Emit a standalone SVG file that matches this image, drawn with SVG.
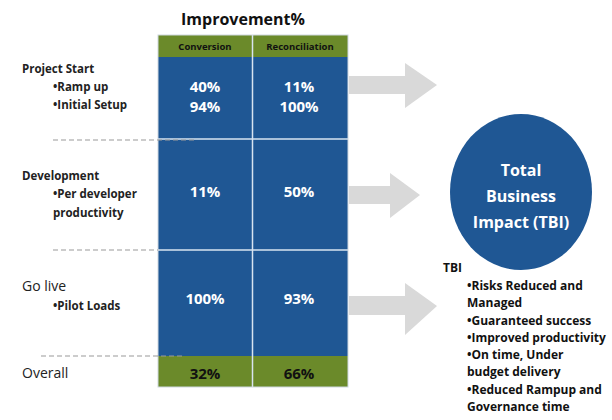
<svg xmlns="http://www.w3.org/2000/svg" width="612" height="420" viewBox="0 0 612 420">
<style>
text{font-family:"Open Sans","Liberation Sans",Arial,sans-serif}
.lbl{font-size:11.5px;font-weight:bold;fill:#222}
.lblr{font-size:14px;fill:#222}
.val{font-size:15px;font-weight:bold;fill:#fff;text-anchor:middle}
.tot{font-size:15px;font-weight:bold;fill:#111;text-anchor:middle}
.hdr{font-size:9.5px;font-weight:bold;fill:#111;text-anchor:middle}
.blue{fill:#1f5794}
.green{fill:#6b8a2a}
.sep{stroke:#d8e4f0;stroke-width:1.5}
.dash{stroke:#9a9a9a;stroke-width:1.2;stroke-dasharray:5 3;fill:none}
.arrow{fill:#d9d9d9}
.circ{font-size:16px;font-weight:bold;fill:#fff;text-anchor:middle}
.tbi{font-size:12px;font-weight:bold;fill:#111}
</style>
<rect width="612" height="420" fill="#fff"/>
<g id="title"><text x="243" y="25" style="font-size:16px;font-weight:bold;fill:#111" text-anchor="middle">Improvement%</text></g>
<g id="table">
<rect class="green" x="158" y="35" width="190" height="22"/>
<rect class="blue" x="158" y="57" width="190" height="299"/>
<rect class="green" x="158" y="356" width="190" height="31"/>
<line class="sep" x1="252.5" y1="35" x2="252.5" y2="387"/>
<line class="sep" x1="158" y1="139" x2="348" y2="139"/>
<line class="sep" x1="158" y1="250" x2="348" y2="250"/>
<rect x="158" y="35" width="190" height="352" fill="none" stroke="#cfd8e0" stroke-width="1"/>
<text class="hdr" x="205" y="50">Conversion</text>
<text class="hdr" x="300" y="50">Reconciliation</text>
<text class="val" x="205" y="92">40%</text>
<text class="val" x="205" y="112">94%</text>
<text class="val" x="299" y="92">11%</text>
<text class="val" x="299" y="112">100%</text>
<text class="val" x="205" y="197">11%</text>
<text class="val" x="299" y="197">50%</text>
<text class="val" x="205" y="304">100%</text>
<text class="val" x="299" y="304">93%</text>
<text class="tot" x="205" y="379">32%</text>
<text class="tot" x="299" y="379">66%</text>
</g>
<g id="labels">
<text class="lbl" x="22" y="73">Project Start</text>
<text class="lbl" x="53" y="91">•Ramp up</text>
<text class="lbl" x="53" y="109">•Initial Setup</text>
<text class="lbl" x="22" y="180">Development</text>
<text class="lbl" x="53" y="198">•Per developer</text>
<text class="lbl" x="53" y="217">productivity</text>
<text class="lblr" x="22" y="291">Go live</text>
<text class="lbl" x="53" y="310">•Pilot Loads</text>
<text class="lblr" x="22" y="378">Overall</text>
</g>
<g id="dividers">
<line class="dash" x1="53" y1="140" x2="197" y2="140"/>
<line class="dash" x1="53" y1="250" x2="158" y2="250"/>
<line class="dash" x1="41" y1="356" x2="185" y2="356"/>
</g>
<g id="connectors">
<polygon class="arrow" points="349,76 405,76 405,63 437,85 405,108 405,94 349,94"/>
<polygon class="arrow" points="349,186 390,186 390,173 420,195 390,218 390,204 349,204"/>
<polygon class="arrow" points="349,296 405,296 405,283 437,306 405,335 405,315 349,315"/>
</g>
<g id="tbi-circle">
<ellipse cx="521" cy="192" rx="71" ry="78" fill="#1f5794"/>
<text class="circ" x="521" y="176">Total</text>
<text class="circ" x="521" y="202">Business</text>
<text class="circ" x="521" y="228">Impact (TBI)</text>
</g>
<g id="tbi-list">
<text class="tbi" x="443" y="272">TBI</text>
<text class="tbi" x="467" y="290">•Risks Reduced and</text>
<text class="tbi" x="467" y="307">Managed</text>
<text class="tbi" x="467" y="325">•Guaranteed success</text>
<text class="tbi" x="467" y="342">•Improved productivity</text>
<text class="tbi" x="467" y="359">•On time, Under</text>
<text class="tbi" x="467" y="376">budget delivery</text>
<text class="tbi" x="467" y="394">•Reduced Rampup and</text>
<text class="tbi" x="467" y="411">Governance time</text>
</g>
</svg>
